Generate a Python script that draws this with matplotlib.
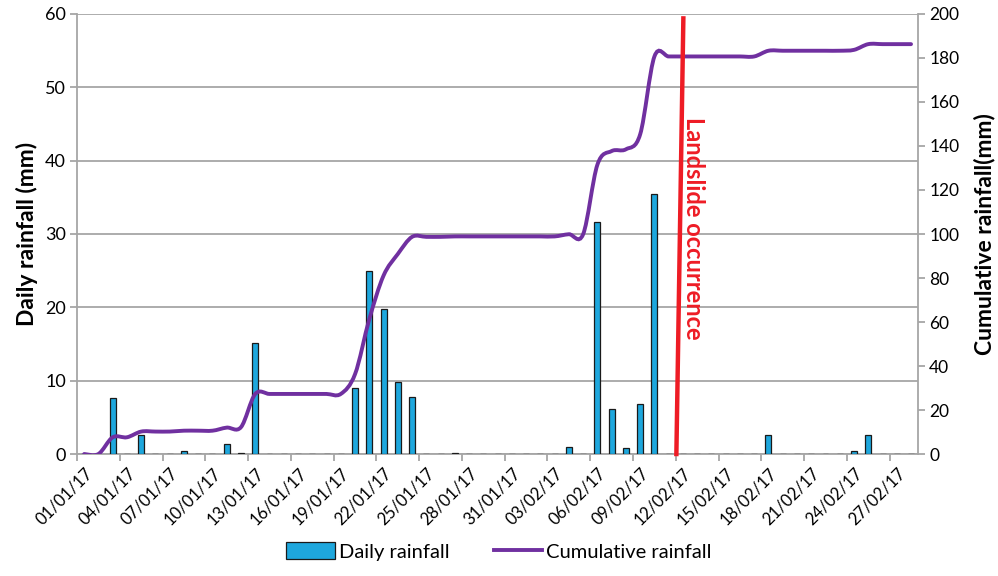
import numpy as np
import matplotlib.pyplot as plt
from matplotlib.path import Path
from matplotlib.patches import PathPatch
from matplotlib.lines import Line2D
from matplotlib.patches import Patch

plt.rcParams['font.family'] = ['Lato', 'DejaVu Sans']

# one entry per day, 01/01/17 .. 28/02/17
dates = ['%02d/01/17' % d for d in range(1, 32)] + ['%02d/02/17' % d for d in range(1, 29)]

daily = [0, 0, 7.6, 0, 2.6, 0, 0, 0.4, 0, 0,
         1.4, 0.2, 15.1, 0, 0, 0, 0, 0, 0, 9.0,
         25.0, 19.8, 9.8, 7.8, 0, 0, 0.2, 0, 0, 0,
         0, 0, 0, 0, 1.0, 0, 31.6, 6.2, 0.8, 6.8,
         35.4, 0, 0, 0, 0, 0, 0, 0, 2.6, 0,
         0, 0, 0, 0, 0.4, 2.6, 0, 0, 0]

cumulative = [0, 0, 7.6, 7.6, 10.2, 10.2, 10.2, 10.6, 10.6, 10.6,
              12.0, 12.2, 27.3, 27.3, 27.3, 27.3, 27.3, 27.3, 27.3, 36.3,
              61.3, 81.1, 90.9, 98.7, 98.7, 98.7, 98.9, 98.9, 98.9, 98.9,
              98.9, 98.9, 98.9, 98.9, 99.9, 99.9, 131.5, 137.7, 138.5, 145.3,
              180.7, 180.7, 180.7, 180.7, 180.7, 180.7, 180.7, 180.7, 183.3, 183.3,
              183.3, 183.3, 183.3, 183.3, 183.7, 186.3, 186.3, 186.3, 186.3]

landslide_day = '12/02/17'

bar_color = '#1ea7dd'
line_color = '#7030a0'
red = '#ee1c25'
grid_gray = '#a6a6a6'


def smooth_path(xs, ys):
    # excel-like smoothed line: catmull-rom as cubic bezier segments
    pts = np.column_stack([xs, ys]).astype(float)
    n = len(pts)
    verts = [pts[0]]
    codes = [Path.MOVETO]
    for i in range(n - 1):
        p0 = pts[i - 1] if i > 0 else pts[i]
        p1 = pts[i]
        p2 = pts[i + 1]
        p3 = pts[i + 2] if i + 2 < n else pts[i + 1]
        c1 = p1 + (p2 - p0) / 6.0
        c2 = p2 - (p3 - p1) / 6.0
        verts += [c1, c2, p2]
        codes += [Path.CURVE4] * 3
    return Path(verts, codes)


fig = plt.figure(figsize=(9.98, 5.76), dpi=100)
ax = fig.add_axes([0.0772, 0.2118, 0.8428, 0.7639])
ax2 = ax.twinx()

x = np.arange(len(dates))
ax.bar(x, daily, width=0.42, color=bar_color, edgecolor='#1a1a1a', linewidth=0.9, zorder=3)

ax.set_xlim(-0.5, len(dates) - 0.5)
ax.set_ylim(0, 60)
ax.set_yticks(np.arange(0, 61, 10))
ax.yaxis.grid(True, color=grid_gray, linewidth=1.3, zorder=0)
ax.set_axisbelow(True)

# labels at every 3rd day, tick marks on the category boundaries
ax.set_xticks(x[::3])
ax.set_xticklabels(dates[::3], rotation=45, ha='right', va='top', rotation_mode='anchor', fontsize=12)
ax.tick_params(axis='x', length=0, pad=8)
ax.set_xticks(np.arange(-0.5, len(dates) - 1, 3), minor=True)
ax.tick_params(axis='x', which='minor', length=5, color=grid_gray, width=1.3)

ax.tick_params(axis='y', labelsize=13, length=5, color=grid_gray, width=1.3, pad=3)
ax.set_ylabel('Daily rainfall (mm)', fontsize=16.5, fontweight='bold', labelpad=5)

for s in ['top', 'right']:
    ax.spines[s].set_visible(False)
for s in ['left', 'bottom']:
    ax.spines[s].set_color(grid_gray)
    ax.spines[s].set_linewidth(1.3)

ax2.set_ylim(0, 200)
ax2.set_yticks(np.arange(0, 201, 20))
ax2.tick_params(axis='y', labelsize=12.5, length=5, color=grid_gray, width=1.3, pad=3)
ax2.set_ylabel('Cumulative rainfall(mm)', fontsize=16.5, fontweight='bold', labelpad=10)
for s in ['top', 'left', 'bottom']:
    ax2.spines[s].set_visible(False)
ax2.spines['right'].set_color(grid_gray)
ax2.spines['right'].set_linewidth(1.3)

ax2.add_patch(PathPatch(smooth_path(x, cumulative), facecolor='none', edgecolor=line_color,
                        linewidth=2.8, capstyle='round', zorder=4))

# landslide marker
li = dates.index(landslide_day)
ax2.plot([li - 0.46, li + 0.03], [0, 198], color=red, linewidth=3.2, zorder=5, clip_on=False)
ax2.text(li - 0.05, 153, 'Landslide occurrence', rotation=-90, color=red, fontsize=17,
         fontweight='bold', ha='left', va='top')

handles = [Patch(facecolor=bar_color, edgecolor='#1a1a1a', linewidth=0.9),
           Line2D([], [], color=line_color, linewidth=2.8)]
fig.legend(handles, ['Daily rainfall', 'Cumulative rainfall'], loc='lower center',
           bbox_to_anchor=(0.5, -0.005), ncol=2, frameon=False, fontsize=14.5,
           handlelength=2.4, handleheight=0.9, handletextpad=0.2, columnspacing=2.2)

fig.savefig('out.png', dpi=100)
